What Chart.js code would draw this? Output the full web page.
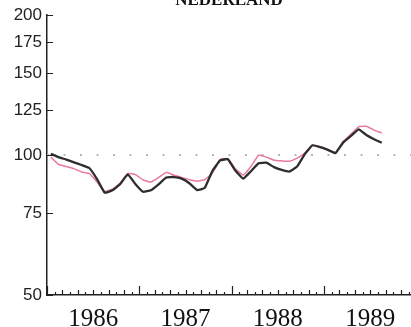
<!DOCTYPE html>
<html>
<head>
<meta charset="utf-8">
<script src="https://cdn.jsdelivr.net/npm/chart.js@4.4.1/dist/chart.umd.min.js"></script>
<style>
  body { margin: 0; background: #fff; }
  canvas { display: block; }
</style>
</head>
<body>
<canvas id="c" width="411" height="327"></canvas>
<script>
// monthly index numbers, Jan 1986 .. Aug 1989
const black = [100.6, 99, 97.8, 96.5, 95.2, 93.8, 88.8, 83, 84, 86.6, 90.9, 86.6,
    83.4, 84, 86.5, 89.5, 89.7, 89, 87, 84.1, 85, 92.5, 97.4, 98,
    92.5, 89, 92.3, 96, 96.3, 94.2, 92.9, 92.2, 94.5, 100.5, 105, 104,
    102.6, 101, 106.5, 110, 113.6, 110.5, 108.2, 106.3]
const pink = [99, 95.5, 94.5, 93.5, 92, 91.3, 87.5, 83.5, 84.5, 87, 91.3, 90.8,
    88.4, 87.5, 89.5, 91.8, 90.5, 89.5, 88.5, 87.9, 88.5, 91.5, 97.8, 98.3,
    93.3, 90.6, 94.5, 100, 99, 97.5, 97.2, 97, 98.5, 101, 105.2, 104.2,
    102.8, 101.3, 107, 111, 115, 115.4, 113.2, 111.6]
const years = [1986, 1987, 1988, 1989]
const yTicks = [50, 75, 100, 125, 150, 175, 200]
const title = 'NEDERLAND'

const xMax = 47.3
const toPoints = arr => arr.map((v, i) => ({ x: i + 0.5, y: v }))

// small tick marks pointing into the plot
const innerTicks = {
    id: 'innerTicks',
    afterDraw(chart) {
        const ctx = chart.ctx
        const xs = chart.scales.x, ys = chart.scales.y
        ctx.save()
        ctx.strokeStyle = '#222'
        ctx.lineWidth = 1.2
        ctx.beginPath()
        for (let m = 0; m <= Math.floor(xMax); m++) {
            const px = Math.round(xs.getPixelForValue(m)) + 0.5
            const len = m % 12 === 0 ? 9 : (m % 2 === 0 ? 5 : 3)
            ctx.moveTo(px, ys.bottom)
            ctx.lineTo(px, ys.bottom - len)
        }
        yTicks.forEach(v => {
            const py = Math.round(ys.getPixelForValue(v)) + 0.5
            ctx.moveTo(xs.left, py)
            ctx.lineTo(xs.left + 6, py)
        })
        ctx.stroke()
        // title, mostly cut off at the top like the scan
        ctx.fillStyle = '#111'
        ctx.font = 'bold 17px "Liberation Serif"'
        ctx.textAlign = 'center'
        ctx.textBaseline = 'alphabetic'
        ctx.fillText(title, (xs.left + xs.right) / 2, 5)
        ctx.restore()
    }
}

new Chart(document.getElementById('c'), {
    type: 'line',
    data: {
        datasets: [
            {
                data: toPoints(black),
                borderColor: '#2e2e2e',
                borderWidth: 2.3,
                pointRadius: 0,
                tension: 0.1
            },
            {
                data: toPoints(pink),
                borderColor: '#e97a9c',
                borderWidth: 1.5,
                pointRadius: 0,
                tension: 0.1
            },
            {
                data: [{ x: 0, y: 100 }, { x: xMax, y: 100 }],
                borderColor: '#b5b5b5',
                borderWidth: 2,
                borderDash: [2, 14.5],
                pointRadius: 0
            }
        ]
    },
    options: {
        responsive: false,
        animation: false,
        layout: { padding: { top: 15, right: 0, left: 0, bottom: 0 } },
        plugins: { legend: { display: false }, tooltip: { enabled: false } },
        scales: {
            x: {
                type: 'linear',
                min: 0,
                max: xMax,
                grid: { display: false, drawTicks: false },
                border: { display: true, color: '#222', width: 1.5 },
                afterBuildTicks: s => { s.ticks = years.map((y, i) => ({ value: i * 12 + 6 })) },
                afterFit: s => { s.height = 32 },
                ticks: {
                    padding: 9,
                    maxRotation: 0,
                    autoSkip: false,
                    color: '#111',
                    font: { family: '"Liberation Serif"', size: 25 },
                    callback: v => String(years[Math.round((v - 6) / 12)])
                }
            },
            y: {
                type: 'logarithmic',
                min: 50,
                max: 200,
                grid: { display: false, drawTicks: false },
                border: { display: true, color: '#222', width: 1.5 },
                afterBuildTicks: s => { s.ticks = yTicks.map(v => ({ value: v })) },
                afterFit: s => { s.width = 47 },
                ticks: {
                    padding: 5,
                    color: '#222',
                    font: { family: '"Liberation Sans"', size: 17 },
                    callback: v => String(v)
                }
            }
        }
    },
    plugins: [innerTicks]
})
</script>
</body>
</html>
